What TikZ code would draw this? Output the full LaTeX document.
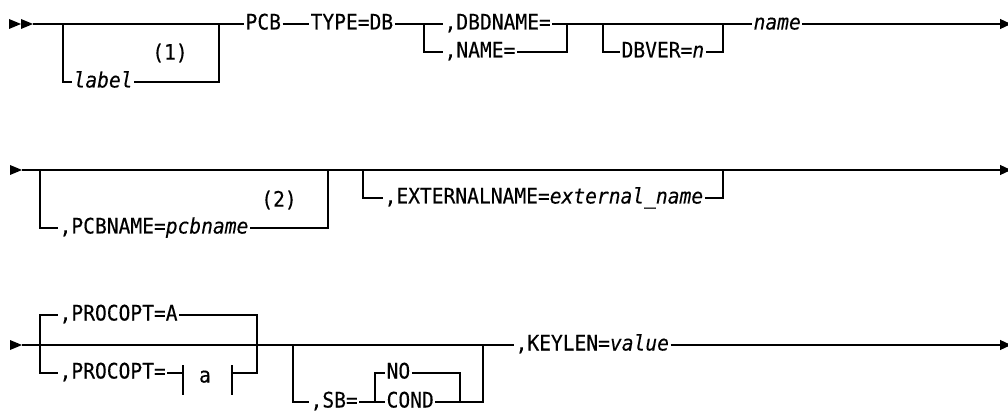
\documentclass[tikz,border=0pt]{standalone}
\usepackage{fontspec}
\setmonofont{DejaVu Sans Mono}[FakeBold=0.3,FakeStretch=0.92]
\usetikzlibrary{arrows.meta}

\begin{document}
\begin{tikzpicture}[
        x=1pt,y=-1pt,
        line width=1.2pt,
        kw/.style={font=\ttfamily\fontsize{21.3}{24}\selectfont,anchor=west,
          inner xsep=1pt,inner ysep=0pt,text height=11pt,text depth=0pt},
        note/.style={font=\ttfamily\fontsize{21.3}{24}\selectfont,inner sep=0pt},
        endarrow/.style={-{Triangle[length=11pt,width=10pt]}}
      ]
      \useasboundingbox (0,0) rectangle (1008,411);
      % row 1
      \fill (9,19) -- (21,24) -- (9,29) -- cycle
      (21,19) -- (33,24) -- (21,29) -- cycle;
      \coordinate (r1s) at (33,24);
      \coordinate (r1e) at (1011,24);
      \node (lbl) [kw] at (72,82) {\textit{label}};
      \node (n1) [note] at (170,53) {(1)};
      \node (pcb) [kw] at (244,24) {PCB};
      \node (type) [kw] at (309,24) {TYPE=DB};
      \node (dbd) [kw] at (443,24) {,DBDNAME=};
      \node (nam) [kw] at (443,52) {,NAME=};
      \node (dbv) [kw] at (620,52) {DBVER=\textit{n}};
      \node (name) [kw] at (752,24) {\textit{name}};
      \coordinate (b1) at (63,24);
      \coordinate (b2) at (219,24);
      \coordinate (c1) at (424,24);
      \coordinate (c2) at (567,24);
      \coordinate (d1) at (603,24);
      \coordinate (d2) at (723,24);
      \draw (r1s) -- (pcb);
      \draw (b1) |- (lbl);
      \draw (lbl) -| (b2);
      \draw (pcb) -- (type);
      \draw (type) -- (dbd);
      \draw (c1) |- (nam);
      \draw (dbd) -- (c2);
      \draw (nam) -| (c2);
      \draw (c2) -- (name);
      \draw (d1) |- (dbv);
      \draw (dbv) -| (d2);
      \draw[endarrow] (name) -- (r1e);
      % row 2
      \fill (10,165) -- (22,170) -- (10,175) -- cycle;
      \coordinate (r2s) at (22,170);
      \coordinate (r2e) at (1011,170);
      \node (pcbn) [kw] at (58,228) {,PCBNAME=\textit{pcbname}};
      \node (n2) [note] at (279,200) {(2)};
      \node (ext) [kw] at (383,198) {,EXTERNALNAME=\textit{external\_name}};
      \coordinate (e1) at (40,170);
      \coordinate (e2) at (328,170);
      \coordinate (e3) at (363,170);
      \coordinate (e4) at (723,170);
      \draw[endarrow] (r2s) -- (r2e);
      \draw (e1) |- (pcbn);
      \draw (pcbn) -| (e2);
      \draw (e3) |- (ext);
      \draw (ext) -| (e4);
      % row 3
      \fill (10,340) -- (22,345) -- (10,350) -- cycle;
      \coordinate (r3s) at (22,345);
      \coordinate (r3e) at (1011,345);
      \node (pa) [kw] at (58,315) {,PROCOPT=A};
      \node (pf) [kw] at (58,373) {,PROCOPT=};
      \node (fa) [kw,anchor=center] at (205,377) {a};
      \node (sb) [kw] at (309,402) {,SB=};
      \node (no) [kw] at (385,373) {NO};
      \node (cond) [kw] at (385,402) {COND};
      \node (key) [kw] at (514,345) {,KEYLEN=\textit{value}};
      \coordinate (p1) at (40,345);
      \coordinate (p2) at (257,345);
      \coordinate (f1) at (183,373);
      \coordinate (f2) at (232,373);
      \coordinate (q1) at (293,345);
      \coordinate (q2) at (483,345);
      \coordinate (q3) at (375,402);
      \coordinate (q4) at (460,402);
      \draw (r3s) -- (key);
      \draw[endarrow] (key) -- (r3e);
      \draw (p1) |- (pa);
      \draw (pa) -| (p2);
      \draw (p1) |- (pf);
      \draw (pf) -- (f1);
      \draw (183,365) -- (183,395)
      (232,365) -- (232,395);
      \draw (f2) -| (p2);
      \draw (q1) |- (sb);
      \draw (sb) -- (cond);
      \draw (q3) |- (no);
      \draw (no) -| (q4);
      \draw (cond) -- (q4) -| (q2);
    \end{tikzpicture}
\end{document}
